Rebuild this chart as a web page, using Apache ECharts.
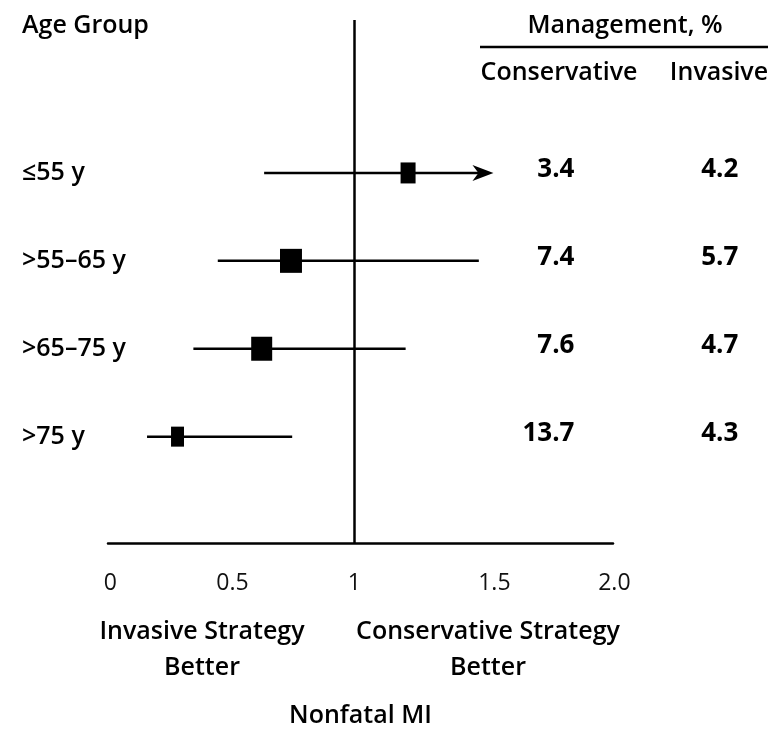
<!DOCTYPE html>
<html>
<head>
<meta charset="utf-8">
<script src="https://cdn.jsdelivr.net/npm/echarts@6/dist/echarts.min.js"></script>
<style>html,body{margin:0;padding:0;background:#fff}#c{width:783px;height:733px}</style>
</head>
<body>
<div id="c"></div>
<script>
// ---- data ----
const categories = ['≤55 y', '>55–65 y', '>65–75 y', '>75 y'];
const estimate = [1.22, 0.74, 0.62, 0.275];
const lower = [0.63, 0.44, 0.34, 0.15];
const upper = [1.57, 1.51, 1.21, 0.745];
const upperTruncated = [true, false, false, false];
const conservativePct = ['3.4', '7.4', '7.6', '13.7'];
const invasivePct = ['4.2', '5.7', '4.7', '4.3'];
const tickValues = [0, 0.5, 1, 1.5, 2];
const tickLabels = ['0', '0.5', '1', '1.5', '2.0'];

// ---- style ----
const FONT = '"Open Sans", "DejaVu Sans", sans-serif';
const LBL = `600 25px ${FONT}`;
const markerSize = [[15, 21], [22, 24], [21, 24], [13, 20]];
const colConsX = 1.902;  // right edge of conservative column in axis units
const colInvX = 2.574;   // right edge of invasive column in axis units
// the source figure prints its two right-hand tick labels slightly right of their ticks
const tickLabelStyle = ['n', 'n', 'n', 's1', 's2'];

const chart = echarts.init(document.getElementById('c'), null, {renderer: 'canvas'});

const forestData = categories.map((c, i) => [i, lower[i], upper[i], estimate[i], upperTruncated[i] ? 1 : 0]);
const tableData = categories.map((c, i) => [i]);

chart.setOption({
  animation: false,
  backgroundColor: '#fff',
  grid: {left: 108, right: 170, top: 20, bottom: 187},
  xAxis: {
    type: 'value', min: -0.01, max: 2.06,
    splitLine: {show: false},
    axisLine: {show: true, onZero: false, lineStyle: {color: '#000', width: 2.5}},
    axisTick: {show: false},
    axisLabel: {
      customValues: tickValues,
      formatter: v => {
        const k = tickValues.indexOf(v);
        return k < 0 ? '' : `{${tickLabelStyle[k]}|${tickLabels[k]}}`;
      },
      rich: {
        n: {},
        s1: {padding: [0, 0, 0, 36]},
        s2: {padding: [0, 0, 0, 32]}
      },
      color: '#111', fontFamily: FONT, fontSize: 23, margin: 29
    },
    name: 'Nonfatal MI', nameLocation: 'middle', nameGap: 160,
    nameTextStyle: {color: '#000', fontFamily: FONT, fontSize: 25, fontWeight: 600}
  },
  yAxis: {
    type: 'value', inverse: true, min: -1.74, max: 4.21,
    splitLine: {show: false},
    axisLine: {show: false}, axisTick: {show: false},
    axisLabel: {
      customValues: [0, 1, 2, 3],
      formatter: v => categories[v] ?? '',
      align: 'left', margin: 86, padding: [0, 0, 18, 0],
      color: '#000', fontFamily: FONT, fontSize: 25, fontWeight: 600
    }
  },
  series: [
    {
      type: 'custom',
      data: forestData,
      clip: false,
      renderItem(params, api) {
        const i = api.value(0);
        const lo = api.coord([api.value(1), i]);
        const hi = api.coord([api.value(2), i]);
        const pt = api.coord([api.value(3), i]);
        const trunc = api.value(4) === 1;
        const [w, h] = markerSize[params.dataIndex];
        const y = lo[1];
        const children = [];
        const lineEnd = trunc ? hi[0] - 14 : hi[0];
        children.push({type: 'line', shape: {x1: lo[0], y1: y, x2: lineEnd, y2: y},
          style: {stroke: '#000', lineWidth: 2.5}});
        if (trunc) {
          children.push({type: 'polygon', shape: {points: [[hi[0], y], [hi[0] - 21, y - 8], [hi[0] - 15, y], [hi[0] - 21, y + 8]]},
            style: {fill: '#000'}});
        }
        children.push({type: 'rect', shape: {x: pt[0] - w / 2, y: y - h / 2, width: w, height: h},
          style: {fill: '#000'}});
        return {type: 'group', children};
      },
      markLine: {
        silent: true, symbol: 'none', label: {show: false},
        lineStyle: {color: '#000', width: 2.5, type: 'solid'},
        data: [{xAxis: 1}]
      },
      z: 3
    },
    {
      type: 'custom',
      data: tableData,
      clip: false,
      renderItem(params, api) {
        const i = api.value(0);
        const a = api.coord([colConsX, i]);
        const b = api.coord([colInvX, i]);
        const st = {fill: '#000', font: `700 26px ${FONT}`, textAlign: 'right', textVerticalAlign: 'middle'};
        return {type: 'group', children: [
          {type: 'text', style: Object.assign({}, st, {x: a[0], y: a[1] - 3, text: conservativePct[params.dataIndex]})},
          {type: 'text', style: Object.assign({}, st, {x: b[0], y: b[1] - 3, text: invasivePct[params.dataIndex]})}
        ]};
      }
    }
  ],
  graphic: [
    {type: 'text', x: 22, y: 26, style: {text: 'Age Group', fill: '#000', font: LBL, textVerticalAlign: 'middle'}},
    {type: 'text', x: 625, y: 26, style: {text: 'Management, %', fill: '#000', font: LBL, textAlign: 'center', textVerticalAlign: 'middle'}},
    {type: 'line', shape: {x1: 480, y1: 47, x2: 768, y2: 47}, style: {stroke: '#000', lineWidth: 2.5}},
    {type: 'text', x: 559, y: 73, style: {text: 'Conservative', fill: '#000', font: LBL, textAlign: 'center', textVerticalAlign: 'middle'}},
    {type: 'text', x: 719, y: 73, style: {text: 'Invasive', fill: '#000', font: LBL, textAlign: 'center', textVerticalAlign: 'middle'}},
    {type: 'text', x: 202, y: 632, style: {text: 'Invasive Strategy', fill: '#000', font: LBL, textAlign: 'center', textVerticalAlign: 'middle'}},
    {type: 'text', x: 202, y: 668, style: {text: 'Better', fill: '#000', font: LBL, textAlign: 'center', textVerticalAlign: 'middle'}},
    {type: 'text', x: 488, y: 632, style: {text: 'Conservative Strategy', fill: '#000', font: LBL, textAlign: 'center', textVerticalAlign: 'middle'}},
    {type: 'text', x: 488, y: 668, style: {text: 'Better', fill: '#000', font: LBL, textAlign: 'center', textVerticalAlign: 'middle'}}
  ]
});
</script>
</body>
</html>
